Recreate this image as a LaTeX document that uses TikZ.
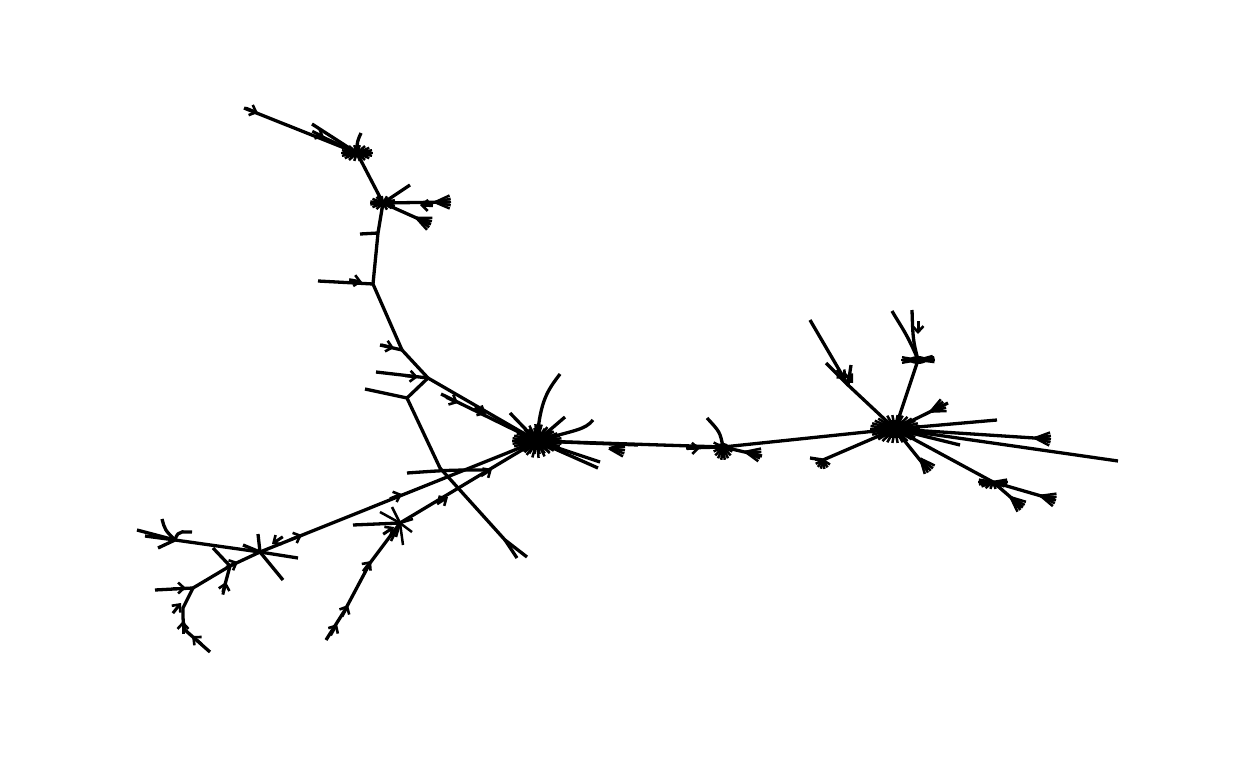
\documentclass[tikz,border=0pt]{standalone}
\usetikzlibrary{arrows.meta,calc}
\newcommand\tb[2]{\draw[b] ($#1!-13pt!#2$) -- #1;}
\newcommand\fanat[2]{\coordinate (fb) at ($#1!15pt!#2$);
  \foreach \a in {-24,-12,0,12,24} \draw[sp] (fb) -- ($(fb)!16pt!\a:#1$);}
\begin{document}
\begin{tikzpicture}[x=1pt,y=-1pt,
  e/.style={line width=3.3pt},
  b/.style={line width=3pt,-{Straight Barb[length=6pt,width=11pt,line width=2.6pt]}},
  sp/.style={line width=2.5pt}]
\useasboundingbox (0,0) rectangle (1248,768);
% main coordinates
\coordinate (h1) at (357,153);
\coordinate (h2) at (383,203);
\coordinate (c1) at (378,233);
\coordinate (c2) at (373,284);
\coordinate (c3) at (402,350);
\coordinate (c4) at (428,378);
\coordinate (c5) at (407,398);
\coordinate (c6) at (440,468);
\coordinate (c7) at (505,540);
\coordinate (M) at (537,441);
\coordinate (N) at (723,447);
\coordinate (P) at (895,429);
\coordinate (Q) at (918,360);
\coordinate (R) at (993,482);
\coordinate (k) at (823,460);
\coordinate (j) at (848,385);
\coordinate (S) at (260,552);
\coordinate (T) at (175,540);
\coordinate (U) at (193,588);
\coordinate (U2) at (230,566);
\coordinate (V) at (400,523);
\coordinate (v1) at (370,563);
\coordinate (v2) at (345,610);
\coordinate (w1) at (183,608);
\coordinate (w2) at (185,630);
\coordinate (g) at (490,470);
% leaf coordinates
\coordinate (l1) at (244,108);
\coordinate (l2) at (312,124);
\coordinate (l3) at (318,281);
\coordinate (l4) at (376,372);
\coordinate (l5) at (365,389);
\coordinate (l6) at (527,557);
\coordinate (l7) at (517,558);
\coordinate (l8) at (560,374);
\coordinate (l9) at (407,473);
\coordinate (l10) at (326,640);
\coordinate (l11) at (810,320);
\coordinate (l12) at (1118,461);
\coordinate (l13) at (210,652);
% ---------- main tree ----------
\draw[e] (l1) -- (h1);
\draw[e] (l2) -- (h1);
\draw[e] (h1) -- (316,134);
\tb{(324,137)}{(h1)}
\tb{(258,113)}{(h1)}
\draw[e] (h1) .. controls (357,142) .. (361,133);
\draw[e] (h1) -- (h2);
\draw[e] (h2) -- (410,185);
\draw[e] (h2) -- (450,202);
\fanat{(450,202)}{(h2)}
\tb{(420,205)}{(h2)}
\draw[e] (h2) -- (430,224);
\fanat{(430,224)}{(h2)}
\draw[e] (h2) -- (c1) -- (c2);
\draw[e] (c1) -- (360,234);
\draw[e] (c2) -- (l3);
\tb{(362,282)}{(c2)}
\draw[e] (c2) -- (c3);
\draw[e] (c3) -- (380,345);
\tb{(394,348)}{(c3)}
\draw[e] (c3) -- (c4);
\draw[e] (c4) -- (l4);
\tb{(418,377)}{(c4)}
\draw[e] (c4) -- (c5);
\draw[e] (c5) -- (l5);
\draw[e] (c5) -- (c6) -- (c7) -- (l6);
\draw[e] (c7) -- (l7);
\draw[e] (c4) -- (M);
\draw[e] (441,394) -- (M);
\tb{(458,403)}{(M)}
\tb{(486,414)}{(M)}
% main hub
\draw[e] (M) .. controls (540,400) and (548,390) .. (l8);
\draw[e] (M) .. controls (575,430) and (585,430) .. (593,420);
\draw[e] (M) -- (510,413);
\draw[e] (M) -- (565,417);
\draw[e] (M) -- (598,468);
\draw[e] (M) -- (600,462);
\draw[e] (M) -- (638,445);
\fanat{(624,450)}{(M)}
\draw[e] (M) -- (N);
\draw[e] (M) -- (S);
\tb{(302,535)}{(M)}
\tb{(402,494)}{(M)}
\draw[e] (M) -- (V);
\tb{(492,469)}{(M)}
\tb{(448,497)}{(M)}
\draw[e] (g) .. controls (450,470) .. (l9);
\foreach \a in {0,12,...,359}
  \draw[sp] (M) -- ++(\a:25 and 13);
\foreach \a in {5,25,...,359}
  \draw[sp] (M) -- ++(\a:18 and 17);
\fill (M) ellipse (20 and 9);
% V hub
\draw[e] (V) -- (353,525);
\tb{(394,527)}{(V)}
\draw[e] (V) -- (v1) -- (v2) -- (l10);
\tb{(371,561)}{(V)}
\tb{(348,605)}{(v1)}
\tb{(337,624)}{(v2)}
\foreach \p in {(392,507),(403,545),(391,541),(413,519),(380,512),(396,537),(412,532)}
  \draw[sp] (V) -- \p;
% S hub
\draw[e] (S) -- (T);
\draw[e] (S) -- (298,558);
\draw[e] (S) -- (283,580);
\draw[e] (S) -- (243,545);
\draw[e] (S) -- (258,534);
\tb{(272,544)}{(S)}
\draw[e] (S) -- (U2) -- (U);
\draw[e] (U2) -- (223,592);
\tb{(226,582)}{(U2)}
\draw[e] (U2) -- (213,548);
\tb{(238,562)}{(S)}
% T
\draw[e] (T) -- (137,530);
\draw[e] (T) -- (145,536);
\draw[e] (T) -- (158,548);
\draw[e] (T) .. controls (165,530) .. (162,519);
\draw[e] (T) .. controls (178,528) and (186,533) .. (192,532);
% U
\draw[e] (U) -- (155,590);
\tb{(186,588)}{(U)}
\draw[e] (U) -- (w1) .. controls (183,622) .. (w2) -- (l13);
\tb{(181,603)}{(U)}
\tb{(183,621)}{(w1)}
\tb{(192,636)}{(w2)}
% N hub
\draw[e] (N) .. controls (720,432) .. (707,418);
\draw[e] (N) -- (686,448);
\tb{(700,448)}{(N)}
\draw[e] (N) -- (762,456);
\fanat{(760,455)}{(N)}
\foreach \a in {0,20,...,200}
  \draw[sp] (N) -- ++(\a:10 and 13);
\fill (N) ellipse (6 and 4);
\draw[e] (N) -- (P);
% P hub
\draw[e] (P) -- (k);
\draw[e] (k) -- (810,458);
\foreach \a in {30,55,...,200}
  \draw[sp] (k) -- ++(\a:8 and 9);
\draw[e] (P) -- (j) -- (l11);
\tb{(853,383)}{(P)}
\draw[e] (j) -- (826,363);
\tb{(846,379)}{(P)}
\draw[e] (j) -- (851,365);
\draw[e] (P) -- (Q);
\draw[e] (Q) .. controls (913,340) .. (912,310);
\tb{(918,334)}{(Q)}
\draw[e] (Q) .. controls (908,335) and (900,325) .. (892,311);
\foreach \a in {-30,-15,0,15,160,180,200,340}
  \draw[sp] (Q) -- ++(\a:17 and 8);
\fill (Q) ellipse (9 and 4);
\draw[e] (P) -- (948,403);
\fanat{(944,405)}{(P)}
\draw[e] (P) -- (997,420);
\draw[e] (P) -- (1050,439);
\fanat{(1050,439)}{(P)}
\draw[e] (P) -- (l12);
\draw[e] (P) -- (960,445);
\draw[e] (P) -- (928,470);
\fanat{(930,470)}{(P)}
\draw[e] (P) -- (R);
\draw[e] (R) -- (1055,500);
\fanat{(1055,500)}{(R)}
\draw[e] (R) -- (1022,507);
\fanat{(1022,507)}{(R)}
\foreach \a in {-20,0,...,200}
  \draw[sp] (R) -- ++(\a:15 and 7);
\foreach \a in {0,12,...,359}
  \draw[sp] (P) -- ++(\a:25 and 14);
\fill (P) ellipse (18 and 9);
% top hubs
\foreach \a in {0,20,...,359}
  \draw[sp] (h1) -- ++(\a:16 and 8);
\fill (h1) ellipse (8 and 4);
\foreach \a in {0,24,...,359}
  \draw[sp] (h2) -- ++(\a:13 and 7);
\fill (h2) ellipse (6 and 3);
\end{tikzpicture}
\end{document}
